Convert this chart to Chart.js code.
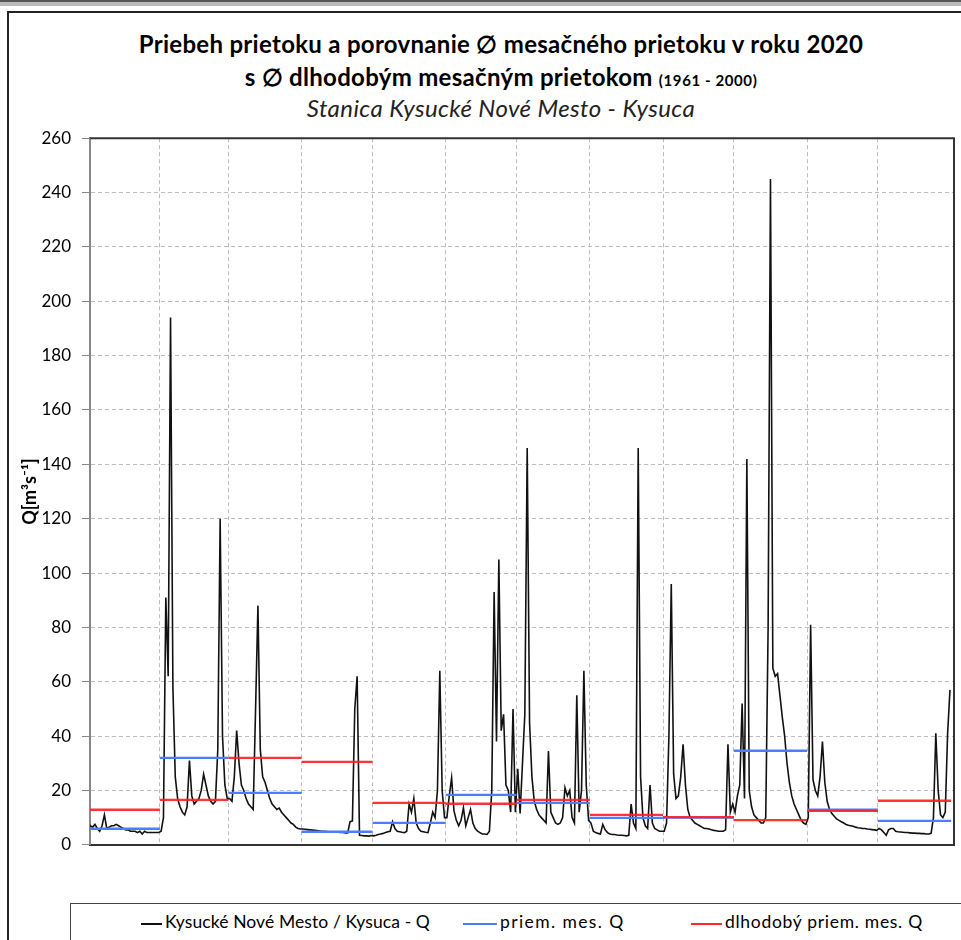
<!DOCTYPE html>
<html>
<head>
<meta charset="utf-8">
<script src="https://cdn.jsdelivr.net/npm/chart.js@4/dist/chart.umd.min.js"></script>
<style>
  html, body { margin: 0; padding: 0; background: #fff; overflow: hidden; width: 961px; height: 940px; }
  body { position: relative; font-family: Lato, "Open Sans", sans-serif; color: #000; }
  #topbar { position: absolute; left: 0; top: 0; width: 961px; height: 2px; background: #555; border-bottom: 4px solid #bbb; }
  #frame { position: absolute; left: 7px; top: 11px; width: 980px; height: 960px; border: 2px solid #222; }
  .t { position: absolute; left: 0; width: 1002px; text-align: center; white-space: nowrap; }
  #t1 { top: 29px; font-size: 24px; font-weight: bold; letter-spacing: 0.3px; }
  #t2 { top: 62px; font-size: 24px; font-weight: bold; letter-spacing: 0.3px; }
  #t2 small { font-size: 15px; letter-spacing: 0.6px; }
  #t3 { top: 93px; font-size: 24px; font-style: italic; color: #222; letter-spacing: 0.4px; }
  #c { position: absolute; left: 0; top: 117px; }
  #legend { position: absolute; left: 70px; top: 903px; width: 900px; height: 40px; border: 1px solid #444; font-size: 17.5px; }
  .li { position: absolute; top: 7px; white-space: nowrap; }
  .ln { display: inline-block; vertical-align: middle; height: 2px; margin-right: 3px; }
</style>
</head>
<body>
<div id="topbar"></div>
<div id="frame"></div>
<div class="t" id="t1">Priebeh prietoku a porovnanie ∅ mesačného prietoku v roku 2020</div>
<div class="t" id="t2">s ∅ dlhodobým mesačným prietokom <small>(1961 - 2000)</small></div>
<div class="t" id="t3">Stanica Kysucké Nové Mesto - Kysuca</div>
<canvas id="c" width="961" height="749"></canvas>
<div id="legend">
  <div class="li" style="left:70px;letter-spacing:0.1px"><span class="ln" style="width:21px;background:#111"></span>Kysucké Nové Mesto / Kysuca - Q</div>
  <div class="li" style="left:392px;letter-spacing:1.4px"><span class="ln" style="width:34px;background:#4a7dff"></span>priem. mes. Q</div>
  <div class="li" style="left:620px;letter-spacing:0.7px"><span class="ln" style="width:31px;background:#ff2a2a"></span>dlhodobý priem. mes. Q</div>
</div>
<script>
// daily discharge 2020 [m3/s], one array per month
const qJan = [8,7,6.5,7.5,6,5,7,11,6,6.5, 7,7,7.5,7,6.5,6,5.5,5.5,5,5, 5,4.5,5,4,5,4.5,4.5,4.5,4.5,4.5,4.5];
const qFeb = [5,10,91,62,194,58,25,17,14,12, 11,14,31,18,15,16,17,20,26,22, 18,16,15,16,35,120,40,22,17];
const qMar = [17,16,25,42,30,22,20,17,15,14, 13,50,88,35,25,23,20,17,15,14, 13,13.5,12,11,10,9,8,7.5,6.5,6,5.8];
const qApr = [5.8,5.7,5.6,5.5,5.4,5.3,5.2,5.1,5.0,5.0, 4.9,4.8,4.8,4.7,4.6,4.6,4.5,4.5,4.4,4.4, 8.5,8.8,50,62,3.5,3.4,3.3,3.3,3.2,3.4];
const qMay = [3.3,3.5,3.8,4,4.2,4.5,4.8,5,8.5,6, 5,4.8,4.6,4.5,5,15,12,17,8,6, 5,4.8,4.6,4.5,8,12,10,20,64,20, 10];
const qJun = [10,18,24.6,12.5,9,7,9,13.6,7,10, 13,8,6,5,4.5,4,4,3.8,5,20, 93,38,105,42,48,22,20,12,50,12];
const qJul = [28,11.5,30,48,146,45,25,16,13,11, 10,9,8,34.5,12,10,8,7.5,8,10, 21,18,20,10,8,55,12,20,64,22, 9];
const qAug = [8,5,4.5,4.2,4,7.5,5.5,4.5,4,3.8, 3.8,3.6,3.5,3.5,3.4,3.3,3.5,15,8,6, 146,25,10,7,6,22,8,6,5.5,5, 5];
const qSep = [5,8,40,96,26,17,18,25,37,22, 13,10,9,8,7.5,7,6.5,6,6,5.8, 5.5,5.3,5.2,5,5,5,5.5,37,12,15];
const qOct = [12,18,22,52,17,142,20,14,11,10, 9,8,8,10,80,245,65,62,63,55, 47,40,30,23,18,15,13,11,9,8, 7.5];
const qNov = [10,81,24,20,18,25,38,23,16,13, 11.5,10.5,9.5,9,8.5,8,7.5,7.2,7,6.8, 6.5,6.3,6.2,6,6,5.8,5.7,5.6,5.5,5.3];
const qDec = [6,5.5,4.5,3.5,5.5,6,6,5,4.8,4.7, 4.6,4.5,4.5,4.4,4.3,4.3,4.2,4.2,4.1,4.1, 4,4,4.2,10,41,20,11,10,12,41, 57];

// monthly means: 2020 and long-term 1961-2000
const priemMesQ = [5.9, 32.0, 19.1, 4.8, 8.1, 18.4, 15.4, 9.9, 10.0, 34.6, 12.9, 8.8];
const dlhodobyQ = [12.9, 16.5, 32.0, 30.5, 15.4, 15.1, 16.5, 11.0, 10.2, 9.1, 12.5, 16.2];

const months = [qJan,qFeb,qMar,qApr,qMay,qJun,qJul,qAug,qSep,qOct,qNov,qDec];

// month start positions in days
const monthStarts = [0];
months.forEach(m => monthStarts.push(monthStarts[monthStarts.length-1] + m.length));
const xMin = 1.4, xMax = 367.2;

const daily = [];
months.forEach((m, i) => m.forEach((v, d) => daily.push({x: monthStarts[i] + d + 0.5, y: v})));

function steps(vals){
  const out = [];
  vals.forEach((v, i) => {
    out.push({x: Math.max(monthStarts[i], xMin), y: v});
    out.push({x: monthStarts[i+1], y: v});
    out.push({x: monthStarts[i+1], y: null});
  });
  return out;
}

const plotFrame = {
  id: 'plotFrame',
  afterDraw(chart){
    const a = chart.chartArea, ctx = chart.ctx;
    ctx.save();
    ctx.lineWidth = 2;
    ctx.strokeStyle = '#333';
    ctx.beginPath();
    ctx.moveTo(a.left, a.top);
    ctx.lineTo(a.right, a.top);
    ctx.lineTo(a.right, a.bottom);
    ctx.stroke();
    ctx.restore();
  }
};

new Chart(document.getElementById('c'), {
  type: 'line',
  data: {
    datasets: [
      { label: 'Kysucké Nové Mesto / Kysuca - Q', data: daily, borderColor: '#111', borderWidth: 1.6, pointRadius: 0, tension: 0, order: 3 },
      { label: 'priem. mes. Q', data: steps(priemMesQ), borderColor: '#4a7dff', borderWidth: 2.3, pointRadius: 0, order: 2 },
      { label: 'dlhodobý priem. mes. Q', data: steps(dlhodobyQ), borderColor: 'rgba(255,30,30,0.9)', borderWidth: 2.3, pointRadius: 0, order: 1 }
    ]
  },
  options: {
    responsive: false,
    animation: false,
    layout: { padding: { top: 0, right: 7, bottom: 0, left: 0 } },
    plugins: { legend: { display: false }, tooltip: { enabled: false }, title: { display: false } },
    scales: {
      x: {
        type: 'linear', min: xMin, max: xMax,
        afterBuildTicks: s => { s.ticks = [xMin].concat(monthStarts.slice(1, 12), [xMax]).map(v => ({value: v})); },
        afterFit: s => { s.height = 0; },
        ticks: { display: false },
        grid: { color: '#bdbdbd', lineWidth: 1, drawTicks: false },
        border: { color: '#333', width: 2, dash: [4, 3] }
      },
      y: {
        min: 0, max: 260,
        afterFit: s => { s.width = 90; },
        ticks: { stepSize: 20, color: '#000', padding: 11, font: { family: 'Lato', size: 17 } },
        grid: { color: '#bdbdbd', lineWidth: 1, tickLength: 8, tickBorderDash: [], tickColor: '#888' },
        border: { color: '#888', width: 2, dash: [4, 3] },
        title: { display: true, text: 'Q[m³s⁻¹]', color: '#000', font: { family: 'Lato', size: 18, weight: 'bold' }, padding: { top: 19, bottom: 0 } }
      }
    }
  },
  plugins: [plotFrame]
});
</script>
</body>
</html>
